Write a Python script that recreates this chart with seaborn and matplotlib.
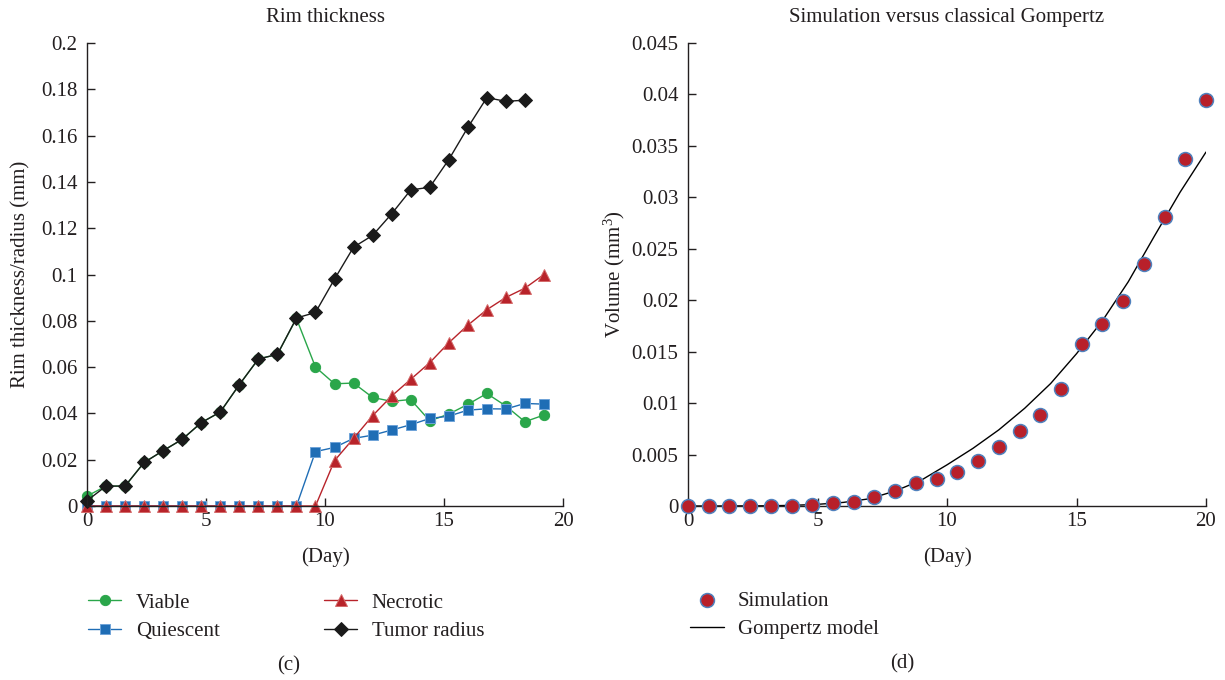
import matplotlib
matplotlib.use("Agg")
import matplotlib.pyplot as plt
import seaborn as sns
import pandas as pd

# ---------------- data ----------------
days_c = [0.0, 0.8, 1.6, 2.4, 3.2, 4.0, 4.8, 5.6, 6.4, 7.2, 8.0, 8.8, 9.6,
          10.4, 11.2, 12.0, 12.8, 13.6, 14.4, 15.2, 16.0, 16.8, 17.6, 18.4, 19.2]
viable = [0.0043, 0.0086, 0.0086, 0.0188, 0.0239, 0.0288, 0.036, 0.0406, 0.0524,
          0.0635, 0.0655, 0.081, 0.060, 0.0528, 0.0531, 0.0469, 0.0452, 0.046,
          0.0368, 0.0397, 0.0439, 0.0486, 0.0432, 0.0364, 0.0393]
quiescent = [0, 0, 0, 0, 0, 0, 0, 0, 0, 0, 0, 0, 0.0235, 0.0253, 0.0292, 0.0306,
             0.0328, 0.0351, 0.0378, 0.0388, 0.0414, 0.042, 0.0419, 0.0443, 0.044]
necrotic = [0, 0, 0, 0, 0, 0, 0, 0, 0, 0, 0, 0, 0, 0.0196, 0.0292, 0.039, 0.0475,
            0.0547, 0.0619, 0.0705, 0.0781, 0.0848, 0.0901, 0.0941, 0.1]
days_r = [0.0, 0.8, 1.6, 2.4, 3.2, 4.0, 4.8, 5.6, 6.4, 7.2, 8.0, 8.8, 9.6,
          10.4, 11.2, 12.0, 12.8, 13.6, 14.4, 15.2, 16.0, 16.8, 17.6, 18.4]
radius = [0.0023, 0.0086, 0.0086, 0.0188, 0.0239, 0.0288, 0.036, 0.0406, 0.0524,
          0.0635, 0.0655, 0.0812, 0.0836, 0.098, 0.1118, 0.1169, 0.1262, 0.1365,
          0.1377, 0.1496, 0.1635, 0.1764, 0.1748, 0.1753]

days_sim = [0.0, 0.8, 1.6, 2.4, 3.2, 4.0, 4.8, 5.6, 6.4, 7.2, 8.0, 8.8, 9.6,
            10.4, 11.2, 12.0, 12.8, 13.6, 14.4, 15.2, 16.0, 16.8, 17.6, 18.4, 19.2, 20.0]
simulation = [0.0, 0.0, 0.0, 0.0, 0.0, 0.00003, 0.0001, 0.00029, 0.00039, 0.00084,
              0.00146, 0.00224, 0.00266, 0.00331, 0.00438, 0.00577, 0.0073, 0.00882,
              0.01138, 0.0157, 0.0177, 0.0199, 0.0235, 0.0281, 0.0337, 0.0395]
days_g = [0, 1, 2, 3, 4, 5, 6, 7, 8, 9, 10, 11, 12, 13, 14, 15, 16, 17, 18, 19, 20]
gompertz = [0.0, 0.0, 0.00001, 0.00002, 0.00006, 0.00016, 0.00035, 0.0007, 0.00146,
            0.0025, 0.004, 0.0056, 0.0074, 0.0095, 0.0119, 0.0148, 0.018, 0.0218,
            0.0262, 0.0305, 0.0344]

xticks = [0, 5, 10, 15, 20]
xticklabels = ["0", "5", "10", "15", "20"]
yticks_c = [0, 0.02, 0.04, 0.06, 0.08, 0.1, 0.12, 0.14, 0.16, 0.18, 0.2]
yticklabels_c = ["0", "0.02", "0.04", "0.06", "0.08", "0.1", "0.12", "0.14", "0.16", "0.18", "0.2"]
yticks_d = [0, 0.005, 0.01, 0.015, 0.02, 0.025, 0.03, 0.035, 0.04, 0.045]
yticklabels_d = ["0", "0.005", "0.01", "0.015", "0.02", "0.025", "0.03", "0.035", "0.04", "0.045"]

# ---------------- style ----------------
sns.set_theme(style="white")
TXT = "#231f20"
plt.rcParams["font.family"] = ["Liberation Serif", "DejaVu Serif"]
plt.rcParams["mathtext.fontset"] = "custom"
plt.rcParams["mathtext.rm"] = "Liberation Serif"
plt.rcParams["mathtext.it"] = "Liberation Serif:italic"
plt.rcParams["text.color"] = TXT
plt.rcParams["axes.labelcolor"] = TXT
FS = 15

W, H = 1225, 680
fig = plt.figure(figsize=(W / 100, H / 100), dpi=100)
y0, y1 = 506, 43
axL = fig.add_axes([87 / W, 1 - y0 / H, (563 - 87) / W, (y0 - y1) / H])
axR = fig.add_axes([688 / W, 1 - y0 / H, (1206 - 688) / W, (y0 - y1) / H])

GREEN, BLUE, RED, BLACK = "#2aa64a", "#1f6db5", "#b8232a", "#1a1a1a"

series = [
    ("Viable", days_c, viable, GREEN, "o", 7.4, GREEN),
    ("Quiescent", days_c, quiescent, BLUE, "s", 7.2, "#6fa3d8"),
    ("Necrotic", days_c, necrotic, RED, "^", 8.6, "#d46a6a"),
    ("Tumor radius", days_r, radius, BLACK, "D", 7.0, BLACK),
]
handles = {}
for name, xs, ys, col, mk, ms, ec in series:
    sns.lineplot(x=xs, y=ys, ax=axL, color=col, marker=mk, markersize=ms,
                 markeredgecolor=ec, markeredgewidth=0.7, linewidth=1.0,
                 clip_on=False, legend=False, label=name, estimator=None)
    handles[name] = axL.lines[-1]

sns.lineplot(x=days_g, y=gompertz, ax=axR, color="black", linewidth=1.0,
             legend=False, label="Gompertz model", estimator=None)
h_gomp = axR.lines[-1]
sns.scatterplot(x=days_sim, y=simulation, ax=axR, s=100, color="#b8202a",
                edgecolor="#4f81bd", linewidth=1.1, clip_on=False, zorder=3,
                legend=False, label="Simulation")
h_sim = axR.collections[-1]

for ax, yt, ytl, ymax in [(axL, yticks_c, yticklabels_c, 0.2),
                          (axR, yticks_d, yticklabels_d, 0.045)]:
    ax.set_xlim(0, 20)
    ax.set_ylim(0, ymax)
    ax.set_xticks(xticks)
    ax.set_xticklabels(xticklabels)
    ax.set_yticks(yt)
    ax.set_yticklabels(ytl)
    for s in ["top", "right"]:
        ax.spines[s].set_visible(False)
    for s in ["left", "bottom"]:
        ax.spines[s].set_color(TXT)
        ax.spines[s].set_linewidth(1.0)
    ax.tick_params(axis="both", which="major", direction="in", length=6,
                   width=1.0, color=TXT, labelcolor=TXT, labelsize=FS,
                   bottom=True, left=True, top=False, right=False)
    ax.tick_params(axis="y", pad=7)
    ax.tick_params(axis="x", pad=4)
    ax.set_xlabel("(Day)", fontsize=FS, va="center")
    ax.xaxis.set_label_coords(0.5, -(556.7 - y0) / (y0 - y1))
    ax.set_facecolor("white")

axL.set_ylabel("Rim thickness/radius (mm)", fontsize=FS, va="center")
axL.yaxis.set_label_coords((21 - 87) / (563 - 87), 0.5)
axR.set_ylabel("Volume (mm$^3$)", fontsize=FS, va="center")
axR.yaxis.set_label_coords((614 - 688) / (1206 - 688), 0.5)

axL.text(0.5, (y0 - 22) / (y0 - y1), "Rim thickness", transform=axL.transAxes,
         ha="center", va="baseline", fontsize=FS)
axR.text(0.5, (y0 - 22) / (y0 - y1), "Simulation versus classical Gompertz",
         transform=axR.transAxes, ha="center", va="baseline", fontsize=FS)

# legends
leg_order = ["Viable", "Quiescent", "Necrotic", "Tumor radius"]
fig.legend([handles[n] for n in leg_order], leg_order, ncol=2,
           loc="upper left", bbox_to_anchor=(88 / W, 1 - 593 / H),
           bbox_transform=fig.transFigure, frameon=False, fontsize=FS,
           borderpad=0, borderaxespad=0, handlelength=1.6, handletextpad=0.7,
           columnspacing=5.0, labelspacing=0.42, numpoints=1)
fig.legend([h_sim, h_gomp], ["Simulation", "Gompertz model"], ncol=1,
           loc="upper left", bbox_to_anchor=(690 / W, 1 - 591 / H),
           bbox_transform=fig.transFigure, frameon=False, fontsize=FS,
           borderpad=0, borderaxespad=0, handlelength=1.63, handletextpad=0.67,
           labelspacing=0.42, scatterpoints=1)

fig.text(288.5 / W, 1 - 666 / H, "(c)", ha="center", va="center", fontsize=FS)
fig.text(902 / W, 1 - 664 / H, "(d)", ha="center", va="center", fontsize=FS)

fig.savefig("out.png", dpi=100, facecolor="white")
